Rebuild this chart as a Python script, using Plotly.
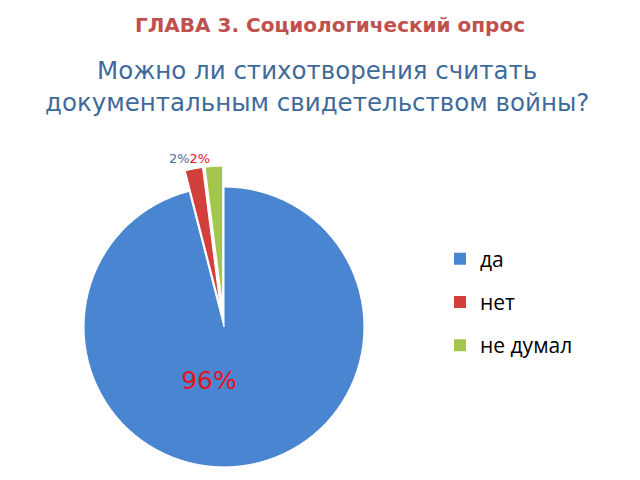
import plotly.graph_objects as go

labels = ["да", "нет", "не думал"]
values = [96, 2, 2]
colors = ["#4A85D1", "#D33F3A", "#A3C64C"]
label_blue = "#4F6E9C"
label_red = "#E8101E"

# the two small labels sit side by side above the pulled slices, so they are
# written as one string on the last slice (plotly would otherwise scoot one up)
pie_text = [
    f"{values[0]}%" + "&nbsp;" * 6 + "<br>&nbsp;",
    "",
    f"<span style='color:{label_blue}'>{values[1]}%</span>{values[2]}%",
]

fig = go.Figure()

fig.add_trace(go.Pie(
    labels=labels,
    values=values,
    sort=False,
    direction="clockwise",
    rotation=0,
    pull=[0, 0.15, 0.15],
    marker=dict(colors=colors, line=dict(color="#ffffff", width=1)),
    text=pie_text,
    textinfo="text",
    textposition=["inside", "none", "outside"],
    textfont=dict(family="DejaVu Sans", size=[25, 13, 13], color=label_red),
    insidetextorientation="horizontal",
    domain=dict(x=[0.086, 0.589], y=[0.0, 0.671]),
    showlegend=False,
))

# legend entries (separate so they can be spaced like the original)
for lab, col in zip(labels, colors):
    fig.add_trace(go.Scatter(x=[None], y=[None], mode="markers", name=lab,
                             legendgroup=lab,
                             marker=dict(symbol="square", size=12, color=col,
                                         line=dict(color=col, width=0))))

fig.add_annotation(text="<b>ГЛАВА 3. Социологический опрос</b>", x=0.5035, y=0.9646,
                   xref="paper", yref="paper", showarrow=False, yanchor="middle",
                   font=dict(family="DejaVu Sans", size=20, color="#C0504D"))
fig.add_annotation(text="Можно ли стихотворения считать<br>документальным свидетельством войны?",
                   x=0.483, y=0.8355, xref="paper", yref="paper", showarrow=False, yanchor="middle",
                   font=dict(family="DejaVu Sans", size=24.5, color="#3F6A9C"))

fig.update_layout(
    width=640, height=480,
    margin=dict(l=0, r=0, t=0, b=0, autoexpand=False),
    paper_bgcolor="#ffffff",
    plot_bgcolor="#ffffff",
    xaxis=dict(visible=False),
    yaxis=dict(visible=False),
    legend=dict(x=0.675, y=0.3875, xanchor="left", yanchor="middle",
                tracegroupgap=13,
                font=dict(family="Open Sans", size=21, color="#000000")),
)

fig.write_html("out.html")
